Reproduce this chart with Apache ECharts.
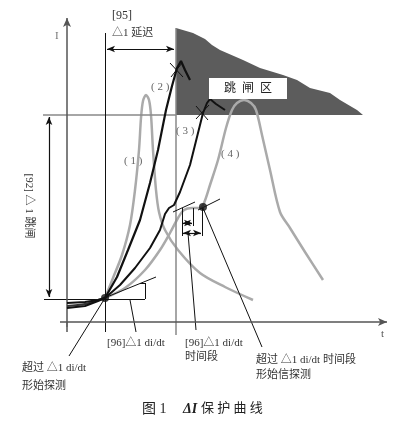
<!DOCTYPE html>
<html>
<head>
<meta charset="utf-8">
<script src="https://cdn.jsdelivr.net/npm/echarts@6/dist/echarts.min.js"></script>
<style>
  html, body { margin: 0; padding: 0; background: #fff; }
  #chart { width: 398px; height: 430px; }
</style>
</head>
<body>
<div id="chart"></div>
<script>
// all coordinates are in diagram units (0..398 across, 0..430 down)
const curve1 = [[105, 298], [113, 278], [122, 255], [130, 225], [135, 190], [139, 150], [141, 118], [143, 101], [146, 95], [149, 100], [151, 115], [153, 150], [156, 190], [159, 212], [165, 230], [178, 250], [200, 273], [225, 287], [253, 300]]
const curve2 = [[67, 303], [85, 302], [98, 300], [105, 298], [117, 277], [128, 250], [140, 220], [150, 183], [158, 150], [166, 110], [172, 86], [177, 68], [181, 61], [185, 70], [190, 80]]
const curve3 = [[67, 308], [85, 306], [98, 301], [105, 298], [120, 285], [135, 268], [150, 248], [160, 230], [165, 214], [169, 208], [174, 205], [180, 192], [190, 165], [197, 137], [203, 113], [207, 103], [210, 99], [216, 104], [225, 110]]
const curve4 = [[105, 298], [125, 288], [145, 270], [160, 250], [170, 233], [178, 218], [184, 210], [192, 208], [200, 208], [204, 203], [210, 185], [218, 160], [226, 128], [232, 110], [237, 103], [244, 100], [251, 103], [256, 110], [262, 135], [270, 170], [280, 212], [290, 228], [305, 252], [323, 280]]
const leftBand = [[67, 306], [85, 304], [98, 300], [105, 298]]
const tripArea = [[176, 28], [193, 33], [205, 39], [212, 45], [220, 50], [243, 60], [260, 68], [283, 75], [297, 80], [310, 88], [330, 93], [340, 100], [357, 110], [363, 115], [176, 115]]
const dots = [[105, 298], [203, 207]]

// straight guide segments [x1, y1, x2, y2]
const grayLines = [[43, 115, 176, 115], [176, 28, 176, 335], [67, 322, 67, 327]]
const blackLines = [[105, 33, 105, 332], [44, 299, 145, 299], [140, 283, 145, 283], [145, 283, 145, 299],
  [92, 303, 156, 277], [173, 212, 195, 202], [198, 210, 220, 199],
  [69, 356, 105, 298], [130, 300, 136, 332], [188, 233, 196, 330], [203, 208, 262, 347],
  [182, 208, 182, 236], [193, 208, 193, 226], [202, 208, 202, 236],
  [170, 63, 183, 77], [171, 77, 182, 63], [196, 106, 208, 120], [196, 119, 209, 105]]
const axisArrows = [[67, 332, 67, 18], [60, 322, 387, 322]]
const doubleArrows = [[107, 49, 174, 49], [49, 117, 49, 297], [183, 223, 192, 223], [183, 233, 201, 233]]

const serif = "'Liberation Serif', 'Noto Sans CJK SC', serif"
const textColor = '#333'

const seg = (s, extra) => [Object.assign({ coord: [s[0], s[1]] }, extra && extra[0]), Object.assign({ coord: [s[2], s[3]] }, extra && extra[1])]

const markData = []
grayLines.forEach(s => markData.push(seg(s, [{ symbol: 'none', lineStyle: { color: '#888', width: 1.5 } }, { symbol: 'none' }])))
blackLines.forEach(s => markData.push(seg(s, [{ symbol: 'none', lineStyle: { color: '#111', width: 1 } }, { symbol: 'none' }])))
axisArrows.forEach(s => markData.push(seg(s, [{ symbol: 'none', lineStyle: { color: '#555', width: 1.5 } }, { symbol: 'arrow', symbolSize: [6, 9] }])))
doubleArrows.forEach(s => markData.push(seg(s, [{ symbol: 'arrow', symbolSize: [5, 8], lineStyle: { color: '#111', width: 1.2 } }, { symbol: 'arrow', symbolSize: [5, 8] }])))

const curve = (data, color, width, smooth, z) => ({
  type: 'line', data, showSymbol: false, smooth, z,
  lineStyle: { color, width }, silent: true
})

const txt = (text, x, y, opts) => ({
  type: 'text', x, y, z: 20,
  style: Object.assign({ text, font: '11px ' + serif, fill: textColor }, opts)
})

const chart = echarts.init(document.getElementById('chart'))
chart.setOption({
  animation: false,
  backgroundColor: '#fff',
  grid: { left: 0, right: 0, top: 0, bottom: 0 },
  xAxis: { type: 'value', min: 0, max: 398, show: false },
  yAxis: { type: 'value', min: 0, max: 430, inverse: true, show: false },
  series: [
    {
      type: 'custom',
      data: [0],
      silent: true,
      z: 1,
      renderItem: (params, api) => ({
        type: 'polygon',
        shape: { points: tripArea.map(p => api.coord(p)) },
        style: { fill: '#5c5c5c' }
      })
    },
    {
      type: 'line',
      data: [],
      z: 3,
      markLine: {
        silent: true,
        animation: false,
        symbol: 'none',
        label: { show: false },
        lineStyle: { type: 'solid' },
        emphasis: { disabled: true },
        data: markData
      }
    },
    curve(curve1, '#aaa', 2.5, 0.3, 4),
    curve(curve4, '#aaa', 2.5, 0.3, 4),
    curve(leftBand, '#333', 2.2, 0.3, 5),
    curve(curve2, '#111', 2.2, false, 6),
    curve(curve3, '#111', 2, false, 6),
    {
      type: 'scatter',
      data: dots,
      symbolSize: 8,
      itemStyle: { color: '#111' },
      silent: true,
      z: 7
    }
  ],
  graphic: [
    { type: 'rect', z: 10, shape: { x: 209, y: 78, width: 78, height: 21 }, style: { fill: '#fff' } },
    txt('跳  闸  区', 248, 89, { font: '12px ' + serif, fill: '#222', align: 'center', verticalAlign: 'middle' }),
    txt('I', 55, 31, { fill: '#777' }),
    txt('t', 381, 329, { fill: '#555' }),
    txt('[95]', 112, 10, { font: '12px ' + serif }),
    txt('△1 延迟', 112, 28, { font: '11px ' + serif }),
    txt('( 2 )', 151, 82, { fill: '#666' }),
    txt('( 1 )', 124, 156, { fill: '#666' }),
    txt('( 3 )', 176, 126, { fill: '#666' }),
    txt('( 4 )', 221, 149, { fill: '#666' }),
    {
      type: 'text', x: 29, y: 206, rotation: -Math.PI / 2, z: 20,
      style: { text: '[92] △ 1 跳闸', font: '11px ' + serif, fill: textColor, align: 'center', verticalAlign: 'middle' }
    },
    txt('[96]△1 di/dt', 107, 338),
    txt('超过 △1 di/dt', 22, 363),
    txt('形始探测', 22, 381),
    txt('[96]△1 di/dt', 185, 338),
    txt('时间段', 185, 352),
    txt('超过 △1 di/dt 时间段', 256, 355),
    txt('形始信探测', 256, 370),
    txt('图 1', 142, 402, { font: '14px ' + serif, fill: '#222' }),
    txt('ΔI', 183, 402, { font: 'italic bold 14px ' + serif, fill: '#222' }),
    txt('保 护 曲 线', 201, 402, { font: '13px ' + serif, fill: '#222' })
  ]
})
</script>
</body>
</html>
